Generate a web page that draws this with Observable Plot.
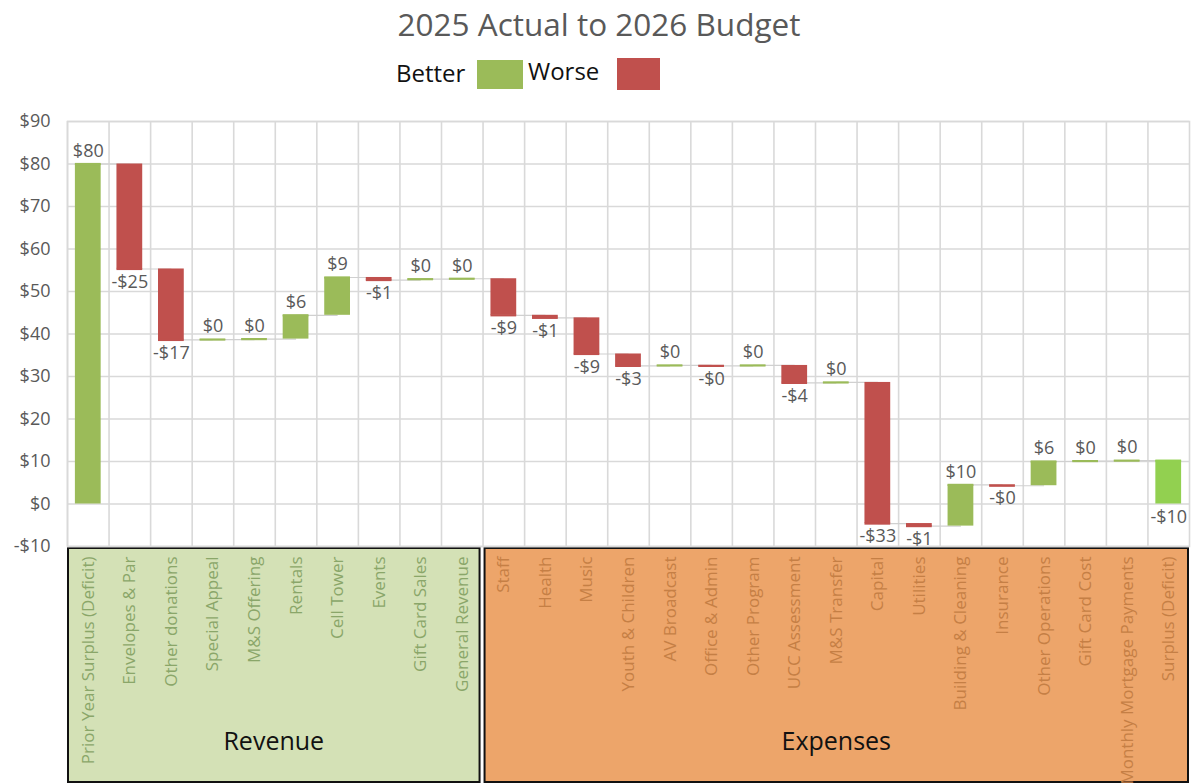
<!DOCTYPE html>
<html>
<head>
<meta charset="utf-8">
<script src="https://cdn.jsdelivr.net/npm/d3@7"></script>
<script src="https://cdn.jsdelivr.net/npm/@observablehq/plot@0.6"></script>
<style>
  html, body { margin: 0; padding: 0; background: #fff; }
  body { width: 1198px; height: 783px; overflow: hidden; font-family: "Open Sans", sans-serif; position: relative; }
  #title { position: absolute; left: 0; top: 2px; width: 1198px; text-align: center; font-size: 31.5px; color: #595959; }
  #legend { position: absolute; top: 56px; left: 396px; height: 34px; font-size: 24px; color: #111; }
  #legend span { position: absolute; white-space: nowrap; line-height: 1; }
  #chart { position: absolute; left: 0; top: 100px; }
</style>
</head>
<body>
<div id="title">2025 Actual to 2026 Budget</div>
<div id="legend">
  <span style="left:0;top:5px">Better</span>
  <span style="left:81px;top:4px;width:46px;height:29px;background:#9BBB59"></span>
  <span style="left:132px;top:3px">Worse</span>
  <span style="left:221px;top:2px;width:43px;height:32px;background:#C0504D"></span>
</div>
<div id="chart"></div>
<script>
// ---- data ----
const revenueCategories = ["Prior Year Surplus (Deficit)", "Envelopes & Par", "Other donations", "Special Appeal", "M&S Offering", "Rentals", "Cell Tower", "Events", "Gift Card Sales", "General Revenue"];
const revenueValues = [80, -24.7, -16.7, 0.1, 0.1, 5.6, 8.9, -0.6, 0.2, 0.1];
const expenseCategories = ["Staff", "Health", "Music", "Youth & Children", "AV Broadcast", "Office & Admin", "Other Program", "UCC Assessment", "M&S Transfer", "Capital", "Utilities", "Building & Cleaning", "Insurance", "Other Operations", "Gift Card Cost", "Monthly Mortgage Payments", "Surplus (Deficit)"];
const expenseValues = [-8.6, -0.6, -8.5, -2.8, 0.1, -0.1, 0.1, -4.1, 0.1, -33.2, -0.6, 9.7, -0.2, 5.7, 0.1, 0.1, -10.2];
const groups = [{name: "Revenue", cats: revenueCategories}, {name: "Expenses", cats: expenseCategories}];
const yTicks = [-10, 0, 10, 20, 30, 40, 50, 60, 70, 80, 90];

// ---- build waterfall rows ----
const categories = [...revenueCategories, ...expenseCategories];
const values = [...revenueValues, ...expenseValues];
let running = 0;
const rows = categories.map((c, i) => {
  const v = values[i];
  let start, end, kind;
  if (i === 0) { start = 0; end = v; running = v; kind = "better"; }
  else if (c === "Surplus (Deficit)") { start = 0; end = running; kind = "total"; }
  else { start = running; end = running + v; running = end; kind = v >= 0 ? "better" : "worse"; }
  return {cat: c, value: v, start, end, kind, lo: Math.min(start, end), hi: Math.max(start, end)};
});
const links = rows.slice(0, -1).map((r, i) => ({a: r.cat, b: rows[i + 1].cat, y: r.end}));
const colors = {better: "#9BBB59", worse: "#C0504D", total: "#92D050"};
const fmt = v => (v < 0 ? "-" : "") + "$" + Math.round(Math.abs(v));

const W = 1198, H = 683, mL = 67, mR = 9, mT = 21, mB = 237;
const bw = (W - mL - mR) / categories.length;
const xOpts = {type: "band", domain: categories, padding: 0.38, paddingOuter: 0.19, align: 0.5, round: false};

const plot = Plot.plot({
  width: W, height: H,
  marginLeft: mL, marginRight: mR, marginTop: mT, marginBottom: mB,
  style: {fontFamily: "Open Sans, sans-serif", fontSize: "18px", background: "transparent", overflow: "visible"},
  x: {...xOpts, axis: null},
  y: {domain: [-10, 90], axis: null},
  marks: [
    Plot.gridY(yTicks, {stroke: "#d9d9d9", strokeOpacity: 1, strokeWidth: 1.6}),
    Plot.ruleX(categories, {x: d => d, dx: -bw / 2, stroke: "#d9d9d9", strokeWidth: 1.6}),
    Plot.frame({stroke: "#d9d9d9", strokeWidth: 1.6}),
    Plot.axisY(yTicks, {tickSize: 0, tickPadding: 17, color: "#595959", tickFormat: fmt, label: null}),
    Plot.link(links, {x1: "a", x2: "b", y1: "y", y2: "y", stroke: "#d0d0d0", strokeWidth: 1.2}),
    Plot.rectY(rows, {x: "cat", y1: "lo", y2: "hi", fill: d => colors[d.kind]}),
    Plot.tickY(rows, {x: "cat", y: "end", stroke: d => colors[d.kind], strokeWidth: 2.2}),
    Plot.text(rows.filter(d => d.value >= 0), {x: "cat", y: "hi", text: d => fmt(d.value), dy: -13, fontSize: 18, fill: "#595959"}),
    Plot.text(rows.filter(d => d.value < 0), {x: "cat", y: "lo", text: d => fmt(d.value), dy: 13, fontSize: 18, fill: "#595959"})
  ]
});

// group boxes below the plot, positioned with the plot's own x scale
const xs = plot.scale("x");
const svg = d3.select(plot);
const boxTop = H - mB + 2, boxBottom = H - 1;
const boxStyle = {Revenue: {fill: "#d4e1b6"}, Expenses: {fill: "#eda56a"}};
const gBoxes = svg.insert("g", ":first-child").attr("class", "groups");
groups.forEach((g, gi) => {
  const first = g.cats[0], last = g.cats[g.cats.length - 1];
  const pad = (xs.bandwidth * (0.38 / 0.62)) / 2;
  const x0 = xs.apply(first) - pad + (gi === 0 ? 1 : 2);
  const x1 = xs.apply(last) + xs.bandwidth + pad - (gi === 0 ? 3 : 1);
  gBoxes.append("rect").attr("x", x0).attr("y", boxTop).attr("width", x1 - x0).attr("height", boxBottom - boxTop)
    .attr("fill", boxStyle[g.name].fill).attr("stroke", "#111").attr("stroke-width", 2);
  gBoxes.append("text").attr("x", (x0 + x1) / 2).attr("y", 650).attr("text-anchor", "middle")
    .attr("font-size", 25).attr("fill", "#111").attr("font-family", "Open Sans, sans-serif").text(g.name);
});
document.getElementById("chart").appendChild(plot);

// rotated category labels through Plot axes, one per group for group-specific colour
const overlay = Plot.plot({
  width: W, height: H, marginLeft: mL, marginRight: mR, marginTop: mT, marginBottom: mB,
  style: {fontFamily: "Open Sans, sans-serif", fontSize: "17px", background: "transparent", overflow: "visible"},
  x: xOpts,
  y: {domain: [-10, 90], axis: null},
  marks: [
    Plot.axisX(revenueCategories, {tickSize: 0, tickPadding: 10, tickRotate: -90, color: "#8aa669", label: null}),
    Plot.axisX(expenseCategories, {tickSize: 0, tickPadding: 10, tickRotate: -90, color: "#c57f45", label: null})
  ]
});
overlay.style.position = "absolute";
overlay.style.left = "0px";
overlay.style.top = "0px";
document.getElementById("chart").appendChild(overlay);
</script>
</body>
</html>
